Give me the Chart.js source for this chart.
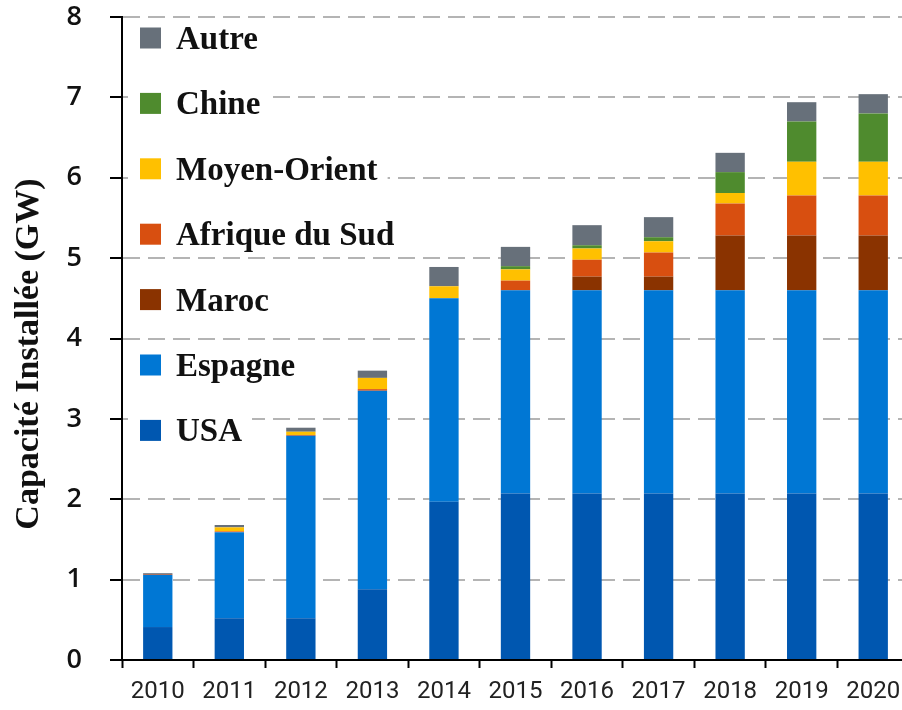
<!DOCTYPE html>
<html>
<head>
<meta charset="utf-8">
<script src="https://cdn.jsdelivr.net/npm/chart.js"></script>
<style>
    html, body {margin: 0; padding: 0; background: #fff; overflow: hidden;}
    #wrap {width: 910px; height: 710px;}
</style>
</head>
<body>
<div id="wrap"><canvas id="chart" width="910" height="710"></canvas></div>
<script>
// capacity installed per region, GW
const years = ["2010", "2011", "2012", "2013", "2014", "2015", "2016", "2017", "2018", "2019", "2020"];
const usa = [0.41, 0.52, 0.52, 0.88, 1.97, 2.07, 2.07, 2.07, 2.07, 2.07, 2.07];
const espagne = [0.65, 1.07, 2.27, 2.47, 2.53, 2.53, 2.53, 2.53, 2.53, 2.53, 2.53];
const maroc = [0, 0, 0, 0, 0, 0, 0.17, 0.17, 0.68, 0.68, 0.68];
const afriqueDuSud = [0.01, 0.01, 0.01, 0.02, 0, 0.12, 0.21, 0.30, 0.40, 0.50, 0.50];
const moyenOrient = [0, 0.05, 0.04, 0.14, 0.15, 0.14, 0.14, 0.14, 0.13, 0.42, 0.42];
const chine = [0, 0, 0, 0, 0, 0.04, 0.04, 0.05, 0.26, 0.50, 0.60];
const autre = [0.01, 0.03, 0.05, 0.09, 0.24, 0.24, 0.25, 0.25, 0.24, 0.24, 0.24];
const yTicks = [0, 1, 2, 3, 4, 5, 6, 7, 8];

const serif = '"Liberation Serif", "Times New Roman", serif';

// legend drawn by hand: rows have a white backing over the grid lines
const legendPlugin = {
    id: "sideLegend",
    afterDraw(chart) {
        const ctx = chart.ctx;
        const sets = chart.data.datasets.slice().reverse();
        ctx.save();
        ctx.font = "bold 33px " + serif;
        sets.forEach((ds, i) => {
            const cy = 38 + i * 65.4;
            const w = ctx.measureText(ds.label).width;
            ctx.fillStyle = "#fff";
            ctx.fillRect(128, cy - 19, 176 + w + 10 - 128, 38);
            ctx.fillStyle = ds.backgroundColor;
            ctx.fillRect(140, cy - 10.5, 21, 21);
            ctx.fillStyle = "#111";
            ctx.textAlign = "left";
            ctx.textBaseline = "alphabetic";
            ctx.fillText(ds.label, 176, cy + 11);
        });
        ctx.restore();
    },
};

const yTitlePlugin = {
    id: "yTitle",
    afterDraw(chart) {
        const ctx = chart.ctx;
        ctx.save();
        ctx.translate(29, 354);
        ctx.rotate(-Math.PI / 2);
        ctx.font = "bold 34px " + serif;
        ctx.fillStyle = "#111";
        ctx.textAlign = "center";
        ctx.textBaseline = "middle";
        ctx.fillText("Capacité Installée (GW)", 0, 0);
        ctx.restore();
    },
};

const ctx = document.getElementById("chart").getContext("2d");

new Chart(ctx, {
    type: "bar",
    data: {
        labels: years,
        datasets: [
            {label: "USA", data: usa, backgroundColor: "#0057b0"},
            {label: "Espagne", data: espagne, backgroundColor: "#0077d4"},
            {label: "Maroc", data: maroc, backgroundColor: "#8a3300"},
            {label: "Afrique du Sud", data: afriqueDuSud, backgroundColor: "#d84f10"},
            {label: "Moyen-Orient", data: moyenOrient, backgroundColor: "#ffc000"},
            {label: "Chine", data: chine, backgroundColor: "#4f8b2e"},
            {label: "Autre", data: autre, backgroundColor: "#67707a"},
        ],
    },
    options: {
        responsive: false,
        animation: false,
        devicePixelRatio: 1,
        layout: {padding: {top: 17, right: 1, bottom: 0, left: 0}},
        datasets: {bar: {categoryPercentage: 1, barPercentage: 0.41}},
        plugins: {
            legend: {display: false},
            tooltip: {enabled: false},
        },
        scales: {
            x: {
                stacked: true,
                afterFit: (scale) => {
                    scale.height = 50;
                    scale.paddingLeft = 0;
                    scale.paddingRight = 0;
                },
                grid: {
                    offset: true,
                    drawOnChartArea: false,
                    tickLength: 8,
                    tickColor: "#000",
                    tickWidth: 2,
                },
                border: {display: true, color: "#000", width: 2},
                ticks: {
                    color: "#222",
                    padding: 10,
                    maxRotation: 0,
                    font: {family: '"Liberation Sans Narrow", Roboto, sans-serif', size: 24},
                },
            },
            y: {
                stacked: true,
                min: 0,
                max: 8,
                afterFit: (scale) => {
                    scale.width = 122;
                    scale.paddingTop = 0;
                    scale.paddingBottom = 0;
                },
                afterBuildTicks: (scale) => { scale.ticks = yTicks.map((v) => ({value: v})); },
                grid: {
                    color: "#b4b4b4",
                    lineWidth: 2,
                    tickLength: 12,
                    tickColor: "#000",
                    tickWidth: 2,
                },
                border: {display: true, color: "#000", width: 2, dash: [17, 8]},
                ticks: {
                    color: "#111",
                    padding: 28,
                    font: {family: '"Open Sans", sans-serif', size: 27, weight: "600"},
                },
            },
        },
    },
    plugins: [legendPlugin, yTitlePlugin],
});
</script>
</body>
</html>
